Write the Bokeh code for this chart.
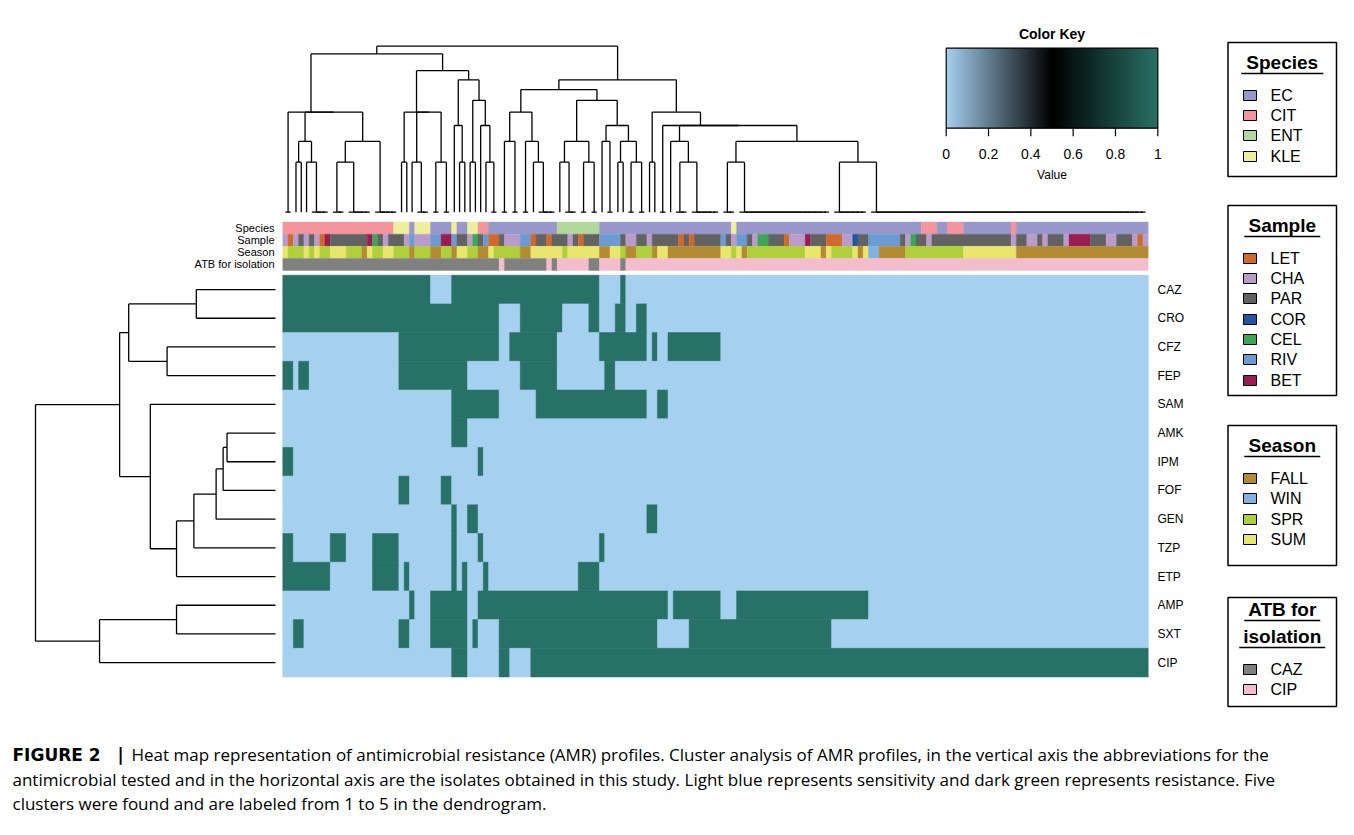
import numpy as np
from bokeh.plotting import figure
from bokeh.models import Range1d
from bokeh.core.properties import value
from bokeh.embed import file_html
from bokeh.resources import INLINE

# ---------------- data ----------------
antibiotics = ["CAZ", "CRO", "CFZ", "FEP", "SAM", "AMK", "IPM",
               "FOF", "GEN", "TZP", "ETP", "AMP", "SXT", "CIP"]
N_ISO = 164  # isolates, in dendrogram order (left to right)

# resistant isolates (inclusive column ranges) for each antibiotic
resistant_ranges = {
    "CAZ": [(0, 27), (32, 59), (64, 64)],
    "CRO": [(0, 40), (45, 52), (58, 59), (63, 64), (67, 68)],
    "CFZ": [(22, 40), (43, 51), (60, 68), (70, 70), (73, 82)],
    "FEP": [(0, 1), (3, 4), (22, 34), (45, 51), (61, 62)],
    "SAM": [(32, 40), (48, 68), (71, 72)],
    "AMK": [(32, 34)],
    "IPM": [(0, 1), (37, 37)],
    "FOF": [(22, 23), (30, 31)],
    "GEN": [(32, 32), (35, 36), (69, 70)],
    "TZP": [(0, 1), (9, 11), (17, 21), (32, 32), (37, 37), (60, 60)],
    "ETP": [(0, 8), (17, 21), (23, 23), (32, 32), (34, 34), (38, 38), (56, 59)],
    "AMP": [(24, 24), (28, 34), (37, 72), (74, 82), (86, 110)],
    "SXT": [(2, 3), (22, 23), (28, 34), (36, 36), (41, 70), (77, 103)],
    "CIP": [(32, 34), (41, 42), (47, 163)],
}

species_runs = [("CIT", 21), ("KLE", 3), ("EC", 1), ("KLE", 3), ("EC", 4), ("KLE", 1),
                ("EC", 2), ("KLE", 2), ("CIT", 2), ("EC", 13), ("ENT", 8), ("EC", 25),
                ("KLE", 1), ("EC", 35), ("CIT", 3), ("EC", 2), ("CIT", 3), ("EC", 9),
                ("CIT", 1), ("EC", 25)]

sample_runs = [("CHA", 1), ("LET", 1), ("CHA", 1), ("PAR", 1), ("CHA", 1), ("PAR", 1),
               ("CHA", 1), ("LET", 1), ("BET", 1), ("PAR", 7), ("BET", 1), ("CEL", 1),
               ("PAR", 1), ("CHA", 1), ("PAR", 3), ("CHA", 1), ("RIV", 1), ("CHA", 3),
               ("RIV", 2), ("BET", 2), ("RIV", 1), ("PAR", 2), ("CHA", 1), ("CEL", 1),
               ("PAR", 1), ("RIV", 1), ("LET", 2), ("PAR", 1), ("CHA", 3), ("RIV", 2),
               ("LET", 1), ("PAR", 2), ("LET", 1), ("PAR", 3), ("CHA", 1), ("PAR", 1),
               ("LET", 1), ("PAR", 3), ("RIV", 4), ("PAR", 1), ("CHA", 2), ("PAR", 2),
               ("CHA", 1), ("PAR", 5), ("LET", 1), ("PAR", 1), ("LET", 1), ("PAR", 5),
               ("RIV", 1), ("PAR", 1), ("CHA", 1), ("RIV", 2), ("PAR", 1), ("CHA", 1),
               ("CEL", 2), ("PAR", 3), ("LET", 1), ("CHA", 3), ("BET", 1), ("PAR", 3),
               ("LET", 3), ("CHA", 2), ("COR", 1), ("PAR", 2), ("RIV", 6), ("PAR", 1),
               ("CHA", 1), ("CEL", 1), ("PAR", 2), ("CHA", 1), ("PAR", 15), ("CHA", 1),
               ("PAR", 2), ("CHA", 2), ("PAR", 1), ("CHA", 1), ("PAR", 3), ("CHA", 1),
               ("BET", 4), ("PAR", 3), ("CHA", 2), ("PAR", 3), ("CHA", 1), ("LET", 1),
               ("CHA", 1)]

season_runs = [("SUM", 1), ("SPR", 3), ("SUM", 1), ("SPR", 1), ("SUM", 1), ("SPR", 2),
               ("SUM", 3), ("SPR", 3), ("FALL", 1), ("SUM", 1), ("SPR", 2), ("SUM", 2),
               ("SPR", 3), ("FALL", 1), ("SPR", 3), ("FALL", 2), ("SPR", 2), ("FALL", 1),
               ("SUM", 2), ("SPR", 2), ("FALL", 2), ("SUM", 1), ("SPR", 5), ("FALL", 2),
               ("SUM", 6), ("SPR", 1), ("SUM", 6), ("FALL", 2), ("SUM", 2), ("SPR", 1),
               ("FALL", 2), ("SPR", 3), ("FALL", 1), ("SUM", 2), ("FALL", 10), ("SUM", 2),
               ("SPR", 1), ("SUM", 1), ("FALL", 1), ("SPR", 11), ("SUM", 3), ("FALL", 1),
               ("SUM", 1), ("SPR", 4), ("SUM", 1), ("FALL", 1), ("SUM", 1), ("WIN", 2),
               ("FALL", 5), ("SPR", 11), ("SUM", 10), ("FALL", 25)]

atb_runs = [("CAZ", 41), ("CIP", 1), ("CAZ", 8), ("CIP", 1), ("CAZ", 1), ("CIP", 6),
            ("CAZ", 2), ("CIP", 4), ("CAZ", 1), ("CIP", 99)]

species_levels = ["EC", "CIT", "ENT", "KLE"]
species_colors = ["#9898CC", "#F4959D", "#B3D89B", "#EFEE9C"]
sample_levels = ["LET", "CHA", "PAR", "COR", "CEL", "RIV", "BET"]
sample_colors = ["#D0692A", "#B99CCB", "#626262", "#2156A4", "#3BA655", "#6A9BD3", "#9B1B53"]
season_levels = ["FALL", "WIN", "SPR", "SUM"]
season_colors = ["#B38B33", "#80B2E3", "#AFD03A", "#E9E66C"]
atb_levels = ["CAZ", "CIP"]
atb_colors = ["#808080", "#F3BDCE"]

annotation_names = ["Species", "Sample", "Season", "ATB for isolation"]

heat_low, heat_high = "#A5D0EF", "#287166"
key_ticks = [0, 0.2, 0.4, 0.6, 0.8, 1]
key_labels = ["0", "0.2", "0.4", "0.6", "0.8", "1"]

caption_bold = ["FIGURE 2", "|"]
caption_lines = [
    "Heat map representation of antimicrobial resistance (AMR) profiles. Cluster analysis of AMR profiles, in the vertical axis the abbreviations for the",
    "antimicrobial tested and in the horizontal axis are the isolates obtained in this study. Light blue represents sensitivity and dark green represents resistance. Five",
    "clusters were found and are labeled from 1 to 5 in the dendrogram.",
]

# ---------------- layout (screen pixels) ----------------
W, H, OFF = 1338, 819, 0
HM_L, HM_R, HM_T, HM_B = 282.3, 1147.7, 274.7, 676.5
ANN_T, ANN_H = 221.6, 12.1
DC_TOP, DC_BASE = 45.7, 211.7      # column dendrogram
DR_ROOT, DR_BASE = 35.0, 275.0     # row dendrogram
KEY_L, KEY_R, KEY_T, KEY_B = 945.7, 1157.3, 47.7, 127.7
FONT = value("Liberation Sans")
CAP_FONT = value("Open Sans")

# ---------------- helpers ----------------
n_ab = len(antibiotics)
M = np.zeros((n_ab, N_ISO))
for i, ab in enumerate(antibiotics):
    for a, b in resistant_ranges[ab]:
        M[i, a:b + 1] = 1


def constrained_complete(X, pos):
    """complete-linkage (euclidean) clustering restricted to neighbours in display order"""
    D = np.sqrt(((X[:, None, :] - X[None, :, :]) ** 2).sum(-1))
    cl = [(i, i, pos[i], 0.0) for i in range(len(X))]
    segs = []
    while len(cl) > 1:
        best = None
        for k in range(len(cl) - 1):
            a, b = cl[k], cl[k + 1]
            h = D[a[0]:a[1] + 1, b[0]:b[1] + 1].max()
            if best is None or h < best[0] + 1e-9:   # ties -> rightmost pair
                best = (h, k)
        h, k = best
        a, b = cl[k], cl[k + 1]
        segs += [(a[2], a[3], a[2], h), (b[2], b[3], b[2], h), (a[2], h, b[2], h)]
        cl[k:k + 2] = [(a[0], b[1], (a[2] + b[2]) / 2.0, h)]
    return np.array(segs), cl[0][3]


col_segs, col_root = constrained_complete(M.T, [j + 0.5 for j in range(N_ISO)])
row_segs, row_root = constrained_complete(M, [n_ab - i - 0.5 for i in range(n_ab)])

# ---------------- ranges ----------------
kx = (HM_R - HM_L) / N_ISO
x0 = -(HM_L - OFF) / kx
ky = (HM_B - HM_T) / n_ab
y1 = n_ab + (HM_T - OFF) / ky
kd = (DC_BASE - DC_TOP) / col_root
dh_end = col_root + (DC_TOP - OFF) / kd
kr = (DR_BASE - DR_ROOT) / row_root
rh_start = (DR_BASE - OFF) / kr
kk = (KEY_R - KEY_L)
key_start = -(KEY_L - OFF) / kk

p = figure(width=W, height=H, x_range=Range1d(x0, x0 + W / kx),
           y_range=Range1d(y1 - H / ky, y1), output_backend="svg",
           toolbar_location=None, min_border=0, x_axis_location=None,
           y_axis_location=None, outline_line_color=None)
p.grid.visible = False
p.background_fill_color = "white"
p.border_fill_color = "white"
p.extra_x_ranges = {"px": Range1d(OFF, OFF + W),
                    "rh": Range1d(rh_start, rh_start - W / kr),
                    "key": Range1d(key_start, key_start + W / kk)}
p.extra_y_ranges = {"py": Range1d(OFF + H, OFF),
                    "dh": Range1d(dh_end - H / kd, dh_end)}

# ---------------- heatmap ----------------
p.quad(left=[0], right=[N_ISO], top=[n_ab], bottom=[0], fill_color=heat_low,
       line_color=None)
L, R, T, B, C = [], [], [], [], []
for i in range(n_ab):
    j = 0
    while j < N_ISO:
        k = j
        while k + 1 < N_ISO and M[i, k + 1] == M[i, j]:
            k += 1
        L.append(j); R.append(k + 1); T.append(n_ab - i); B.append(n_ab - i - 1)
        C.append(heat_high if M[i, j] == 1 else heat_low)
        j = k + 1
p.quad(left=L, right=R, top=T, bottom=B, fill_color=C, line_color=C, line_width=0.5)

# ---------------- annotation bars ----------------
ann = [(species_runs, dict(zip(species_levels, species_colors))),
       (sample_runs, dict(zip(sample_levels, sample_colors))),
       (season_runs, dict(zip(season_levels, season_colors))),
       (atb_runs, dict(zip(atb_levels, atb_colors)))]
L, R, T, B, C = [], [], [], [], []
for r, (runs, cmap) in enumerate(ann):
    start = 0
    for lab, n in runs:
        L.append(start); R.append(start + n)
        T.append(ANN_T + r * ANN_H); B.append(ANN_T + (r + 1) * ANN_H)
        C.append(cmap[lab])
        start += n
p.quad(left=L, right=R, top=T, bottom=B, fill_color=C, line_color=C, line_width=0.4,
       y_range_name="py")
p.text(x=[274] * 4, y=[ANN_T + (r + 0.5) * ANN_H for r in range(4)],
       text=annotation_names, x_range_name="px", y_range_name="py",
       text_align="right", text_baseline="middle", text_font=FONT,
       text_font_size="11px", text_color="black")

# ---------------- dendrograms ----------------
p.segment(x0=col_segs[:, 0], y0=col_segs[:, 1], x1=col_segs[:, 2], y1=col_segs[:, 3],
          y_range_name="dh", line_color="black", line_width=1.3)
p.segment(x0=row_segs[:, 1], y0=row_segs[:, 0], x1=row_segs[:, 3], y1=row_segs[:, 2],
          x_range_name="rh", line_color="black", line_width=1.3)

# ---------------- row labels ----------------
p.text(x=[1157] * n_ab, y=[n_ab - i - 0.5 for i in range(n_ab)], text=antibiotics,
       x_range_name="px", text_align="left", text_baseline="middle",
       text_font=FONT, text_font_size="12px", text_color="black")

# ---------------- color key ----------------
def hex2rgb(h):
    return np.array([int(h[i:i + 2], 16) for i in (1, 3, 5)], float)

c_lo, c_hi = hex2rgb(heat_low), hex2rgb(heat_high)
nstep = 120
edges = np.linspace(0, 1, nstep + 1)
gcols = []
for v in (edges[:-1] + edges[1:]) / 2:
    c = c_lo * (1 - v / 0.5) if v < 0.5 else c_hi * ((v - 0.5) / 0.5)
    gcols.append("#%02x%02x%02x" % tuple(int(round(t)) for t in c))
p.quad(left=edges[:-1], right=np.minimum(edges[1:] + 1.0 / nstep, 1.0), top=KEY_T,
       bottom=KEY_B, fill_color=gcols, line_color=None, x_range_name="key",
       y_range_name="py")
p.quad(left=0, right=1, top=KEY_T, bottom=KEY_B, fill_color=None,
       line_color="black", line_width=1.2, x_range_name="key", y_range_name="py")
p.segment(x0=key_ticks, y0=[KEY_B] * 6, x1=key_ticks, y1=[KEY_B + 8] * 6,
          line_color="black", line_width=1.2, x_range_name="key", y_range_name="py")
p.text(x=key_ticks, y=[153] * 6, text=key_labels, x_range_name="key", y_range_name="py",
       text_align="center", text_baseline="middle", text_font=FONT,
       text_font_size="14px", text_color="black")
p.text(x=[0.5], y=[174], text=["Value"], x_range_name="key", y_range_name="py",
       text_align="center", text_baseline="middle", text_font=FONT,
       text_font_size="12px", text_color="black")
p.text(x=[0.5], y=[33], text=["Color Key"], x_range_name="key", y_range_name="py",
       text_align="center", text_baseline="middle", text_font=FONT,
       text_font_size="14px", text_font_style="bold", text_color="black")

# ---------------- legends ----------------
LG_L, LG_R = 1227.5, 1336.0
LG_CX = (LG_L + LG_R) / 2


def legend(titles, title_ys, half_w, levels, colors, item_ys, top, bottom):
    p.quad(left=LG_L, right=LG_R, top=top, bottom=bottom, fill_color="white",
           line_color="black", line_width=1.5, x_range_name="px", y_range_name="py")
    p.text(x=[LG_CX] * len(titles), y=title_ys, text=titles, x_range_name="px",
           y_range_name="py", text_align="center", text_baseline="middle",
           text_font=FONT, text_font_size="19px", text_font_style="bold",
           text_color="black")
    p.segment(x0=[LG_CX - w for w in half_w], y0=[y + 11 for y in title_ys],
              x1=[LG_CX + w for w in half_w], y1=[y + 11 for y in title_ys],
              line_color="black", line_width=1.5, x_range_name="px", y_range_name="py")
    p.quad(left=[1243] * len(levels), right=[1256] * len(levels),
           top=[y - 5 for y in item_ys], bottom=[y + 5 for y in item_ys],
           fill_color=colors, line_color="black", line_width=1,
           x_range_name="px", y_range_name="py")
    p.text(x=[1270] * len(levels), y=item_ys, text=levels, x_range_name="px",
           y_range_name="py", text_align="left", text_baseline="middle",
           text_font=FONT, text_font_size="16px", text_color="black")


legend(["Species"], [62], [41], species_levels, species_colors,
       [95, 115, 135, 156], 42, 176)
legend(["Sample"], [225], [38], sample_levels, sample_colors,
       [258, 278, 298, 319, 339, 359, 380], 205, 395)
legend(["Season"], [445], [38], season_levels, season_colors,
       [478, 498, 519, 539], 425, 565)
legend(["ATB for", "isolation"], [609, 636], [38, 43], atb_levels, atb_colors,
       [669, 689], 597, 706)

# ---------------- caption ----------------
p.text(x=[12, 117], y=[754, 754], text=caption_bold, x_range_name="px", y_range_name="py",
       text_align="left", text_baseline="middle", text_font=value("DejaVu Sans"),
       text_font_size="17px", text_font_style="bold", text_color="black")
p.text(x=[131, 12, 12], y=[754, 779, 803], text=caption_lines, x_range_name="px",
       y_range_name="py", text_align="left", text_baseline="middle", text_font=CAP_FONT,
       text_font_size="17px", text_color="black")

open("out.html", "w").write(file_html(p, INLINE))
